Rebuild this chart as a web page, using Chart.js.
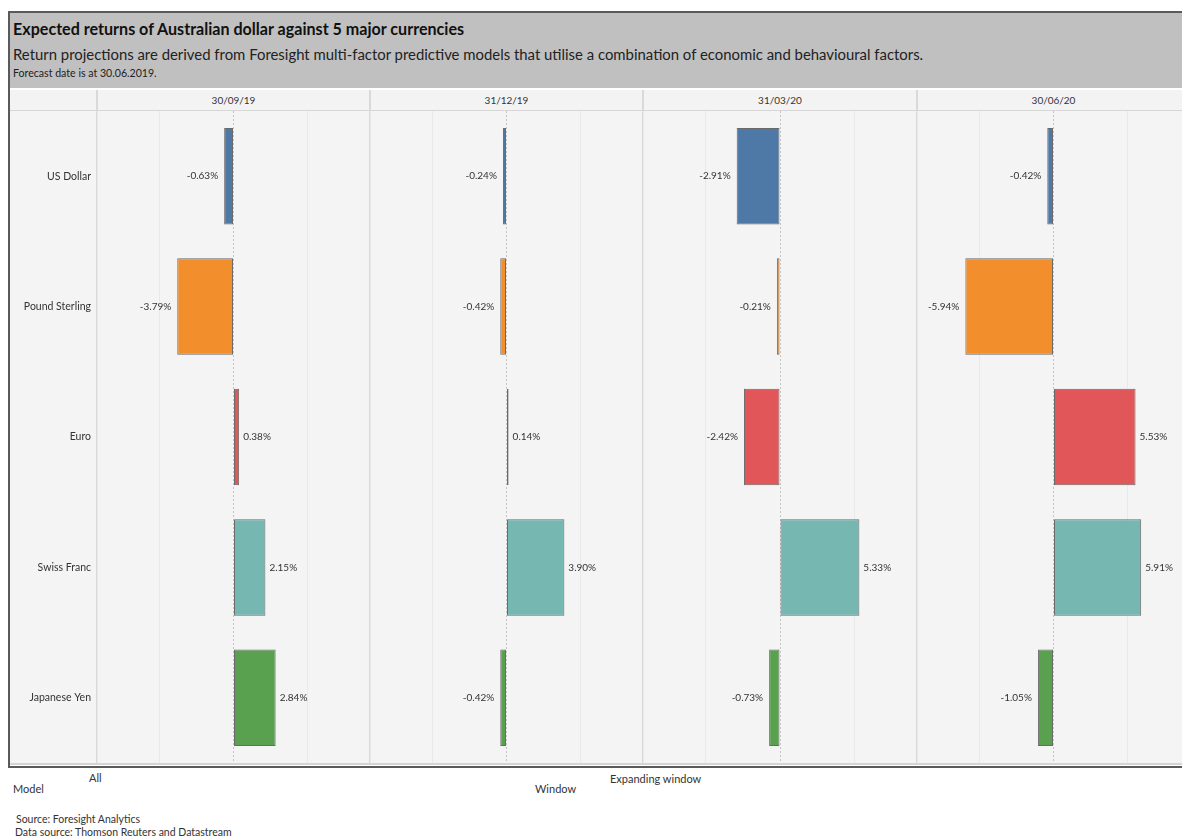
<!DOCTYPE html>
<html>
<head>
<meta charset="utf-8">
<script src="https://cdn.jsdelivr.net/npm/chart.js@4"></script>
<style>
  body { margin: 0; background: #fff; font-family: Lato, "Open Sans", sans-serif; color: #222; overflow: hidden; }
  .abs { position: absolute; }
  #frame { left: 8px; top: 11px; width: 1180px; height: 753px; border: 2px solid #5a5a5a; background: #fff; }
  #band { left: 10px; top: 13px; width: 1180px; height: 75px; background: #c0c0c0; }
  #title { left: 13px; top: 19px; font-size: 16.1px; font-weight: bold; color: #111; white-space: nowrap; }
  #subtitle { left: 13px; top: 45px; font-size: 14.9px; color: #222; white-space: nowrap; }
  #forecast { left: 13px; top: 67px; font-size: 10.6px; color: #222; white-space: nowrap; }
  #headrow { left: 10px; top: 90px; width: 1180px; height: 20px; background: #f3f3f3; border-bottom: 1px solid #d6d6d6; }
  .hcell { top: 90px; height: 20px; line-height: 20px; font-size: 10px; text-align: center; color: #333; }
  #plotbg { left: 10px; top: 111px; width: 1180px; height: 652px; background: #f4f4f4; border-bottom: 2px solid #d4d4d4; }
  .sep { width: 2px; background: #d9d9d9; }
  canvas { position: absolute; }
  .foot { font-size: 11px; color: #333; white-space: nowrap; }
  .src { font-size: 10.5px; color: #333; white-space: nowrap; }
</style>
</head>
<body>
<div id="frame" class="abs"></div>
<div id="band" class="abs"></div>
<div id="title" class="abs">Expected returns of Australian dollar against 5 major currencies</div>
<div id="subtitle" class="abs">Return projections are derived from Foresight multi-factor predictive models that utilise a combination of economic and behavioural factors.</div>
<div id="forecast" class="abs">Forecast date is at 30.06.2019.</div>
<div id="headrow" class="abs"></div>
<div id="plotbg" class="abs"></div>
<div id="seps"></div>
<div id="heads"></div>
<canvas id="c0" width="360" height="652" style="left:10px;top:111px"></canvas>
<canvas id="c1" width="273" height="652" style="left:370px;top:111px"></canvas>
<canvas id="c2" width="274" height="652" style="left:643px;top:111px"></canvas>
<canvas id="c3" width="273" height="652" style="left:917px;top:111px"></canvas>

<div class="abs foot" style="left:89px;top:771px">All</div>
<div class="abs foot" style="left:13px;top:782px">Model</div>
<div class="abs foot" style="left:535px;top:782px">Window</div>
<div class="abs foot" style="left:610px;top:772px">Expanding window</div>
<div class="abs src" style="left:16px;top:813px">Source: Foresight Analytics</div>
<div class="abs src" style="left:15px;top:826px">Data source: Thomson Reuters and Datastream</div>

<script>
const dates = ['30/09/19', '31/12/19', '31/03/20', '30/06/20'];
const currencies = ['US Dollar', 'Pound Sterling', 'Euro', 'Swiss Franc', 'Japanese Yen'];
const sep19 = [-0.63, -3.79, 0.38, 2.15, 2.84];
const dec19 = [-0.24, -0.42, 0.14, 3.90, -0.42];
const mar20 = [-2.91, -0.21, -2.42, 5.33, -0.73];
const jun20 = [-0.42, -5.94, 5.53, 5.91, -1.05];
const barColors = ['#4e79a7', '#f28e2b', '#e15759', '#76b7b2', '#59a14f'];

const series = [sep19, dec19, mar20, jun20];
const panelLeft = [97, 370, 643, 917];
const panelWidth = [273, 273, 274, 273];

Chart.defaults.font.family = 'Lato, "Open Sans", sans-serif';
Chart.defaults.color = '#333';

// panel separators and column headers
const seps = document.getElementById('seps');
const heads = document.getElementById('heads');
panelLeft.forEach((x, i) => {
    let s = document.createElement('div');
    s.className = 'abs sep';
    s.style.left = (x - 1) + 'px';
    s.style.top = '90px';
    s.style.height = '673px';
    seps.appendChild(s);

    let h = document.createElement('div');
    h.className = 'abs hcell';
    h.style.left = x + 'px';
    h.style.width = panelWidth[i] + 'px';
    h.textContent = dates[i];
    heads.appendChild(h);
});

const valueLabels = {
    id: 'valueLabels',
    afterDatasetsDraw(chart) {
        const ctx = chart.ctx;
        const vals = chart.data.datasets[0].data;
        ctx.save();
        ctx.font = '10px Lato, "Open Sans", sans-serif';
        ctx.fillStyle = '#333';
        ctx.textBaseline = 'middle';
        chart.getDatasetMeta(0).data.forEach((bar, i) => {
            const v = vals[i];
            if (v < 0) {
                ctx.textAlign = 'right';
                ctx.fillText(v.toFixed(2) + '%', bar.x - 6, bar.y);
            } else {
                ctx.textAlign = 'left';
                ctx.fillText(v.toFixed(2) + '%', bar.x + 4, bar.y);
            }
        });
        ctx.restore();
    }
};

series.forEach((vals, i) => {
    const first = i === 0;
    const yAxis = {
        display: first,
        grid: { display: false, drawTicks: false },
        border: { display: false },
        ticks: { padding: 6, font: { size: 10.5 }, color: '#333' }
    };
    if (first) {
        // fixed label column, no extra padding above/below the rows
        yAxis.afterFit = s => { s.width = 87; s.paddingTop = 0; s.paddingBottom = 0; };
    }
    new Chart(document.getElementById('c' + i), {
        type: 'bar',
        data: {
            labels: currencies,
            datasets: [{
                data: vals,
                backgroundColor: barColors,
                borderColor: '#6a6a6a',
                borderWidth: 1,
                borderSkipped: false,
                categoryPercentage: 0.74,
                barPercentage: 1
            }]
        },
        options: {
            indexAxis: 'y',
            responsive: false,
            animation: false,
            layout: { padding: 0 },
            plugins: { legend: { display: false }, tooltip: { enabled: false } },
            scales: {
                x: {
                    min: -9.2,
                    max: 9.2,
                    ticks: { display: false, stepSize: 5 },
                    grid: {
                        drawTicks: false,
                        color: ctx => ctx.tick && ctx.tick.value === 0 ? '#c4c4c4' : '#e9e9e9',
                        lineWidth: 1
                    },
                    border: { display: false, dash: ctx => ctx.tick && ctx.tick.value === 0 ? [2, 2] : [] },
                    afterFit: s => { s.height = 0; s.paddingLeft = 0; s.paddingRight = 0; }
                },
                y: yAxis
            }
        },
        plugins: [valueLabels]
    });
});
</script>
</body>
</html>
